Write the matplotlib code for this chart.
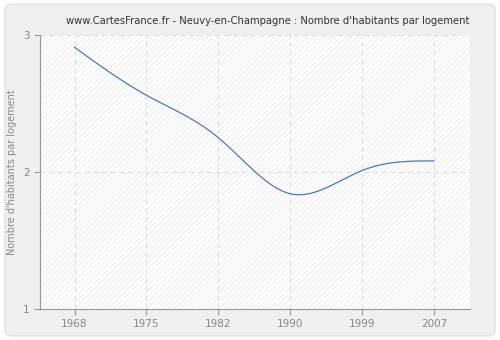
import numpy as np
import matplotlib.pyplot as plt
from matplotlib.patches import FancyBboxPatch

# data
years = ['1968', '1975', '1982', '1990', '1999', '2007']
values = [2.91, 2.56, 2.25, 1.84, 2.01, 2.08]


def smooth(y, n=40):
    # natural cubic spline through the points (unit spacing)
    y = np.asarray(y, dtype=float)
    k = len(y)
    A = np.zeros((k, k))
    b = np.zeros(k)
    A[0, 0] = A[-1, -1] = 1
    for i in range(1, k - 1):
        A[i, i - 1], A[i, i], A[i, i + 1] = 1, 4, 1
        b[i] = 6 * (y[i + 1] - 2 * y[i] + y[i - 1])
    M = np.linalg.solve(A, b)
    xs, ys = [], []
    for i in range(k - 1):
        t = np.linspace(0, 1, n, endpoint=False)
        s = (1 - t) * y[i] + t * y[i + 1] + ((1 - t)**3 - (1 - t)) * M[i] / 6 + (t**3 - t) * M[i + 1] / 6
        xs.append(i + t)
        ys.append(s)
    xs.append([k - 1])
    ys.append([y[-1]])
    return np.concatenate(xs), np.concatenate(ys)


fig = plt.figure(figsize=(5, 3.4), dpi=100)
fig.patch.set_facecolor('white')
bg = FancyBboxPatch((0.01, 0.012), 0.98, 0.976, boxstyle='round,pad=0,rounding_size=0.015',
                    transform=fig.transFigure, facecolor='#efefef', edgecolor='#e2e2e2', lw=1,
                    zorder=-10)
fig.add_artist(bg)

ax = fig.add_axes([0.08, 0.092, 0.86, 0.805])
ax.set_facecolor('#fdfdfd')
ax.patch.set_hatch('//////')
ax.patch.set_edgecolor('#f2f2f2')
ax.patch.set_linewidth(0)

x = np.arange(len(years))
sx, sy = smooth(values)
ax.plot(sx, sy, color='#4f7ab0', lw=0.9)

ax.set_xlim(-0.48, len(years) - 1 + 0.5)
ax.set_ylim(1, 3)
ax.set_xticks(x)
ax.set_xticklabels(years)
ax.set_yticks([1, 2, 3])

ax.grid(True, color='#e0e0e0', linestyle=(0, (4, 3)), lw=0.9)
for s in ['top', 'right']:
    ax.spines[s].set_visible(False)
for s in ['left', 'bottom']:
    ax.spines[s].set_color('#999999')
ax.tick_params(colors='#999999', labelcolor='#888888', labelsize=7.5, length=4, width=0.8)

ax.set_ylabel("Nombre d'habitants par logement", color='#888888', fontsize=7)
ax.set_title("www.CartesFrance.fr - Neuvy-en-Champagne : Nombre d'habitants par logement",
             fontsize=7.2, color='#333333', pad=8, x=0.53)

fig.savefig('out.png', dpi=100)
